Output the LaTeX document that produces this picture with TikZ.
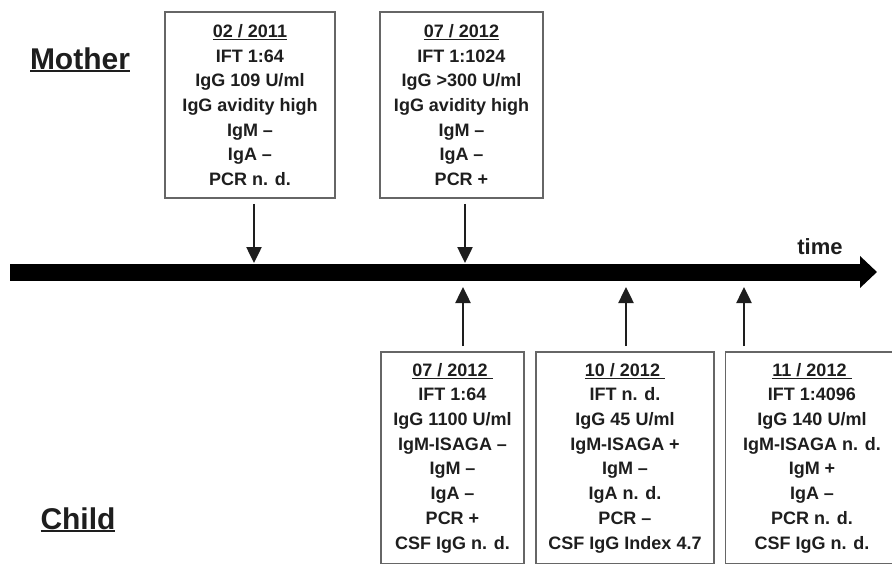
\documentclass[tikz,border=0pt]{standalone}
\usepackage{fontspec}
\setmainfont{Liberation Sans}
\usetikzlibrary{arrows.meta, positioning}

\definecolor{inkgray}{HTML}{1E1E1E}
\definecolor{framegray}{HTML}{666666}

% underlined date / label
\newcommand{\dateline}[2][1.3pt]{\setbox0\hbox{#2}\leavevmode\rlap{\rule[-3pt]{\wd0}{#1}}\box0}

\tikzset{
  labbox/.style={draw=framegray, line width=1.8pt, align=center, inner sep=0pt,
    text=inkgray, font=\bfseries\fontsize{18}{24.7}\selectfont},
  evarrow/.style={draw=inkgray, line width=2.5pt, shorten <=5pt,
    -{Triangle[width=15pt,length=16pt]}},
  timeline/.style={draw=black, line width=17pt,
    -{Triangle[width=31pt,length=17pt]}},
  sidelabel/.style={text=inkgray, font=\bfseries\fontsize{30}{32}\selectfont}
}

\begin{document}
\begin{tikzpicture}[x=1pt, y=-1pt]
  \useasboundingbox (0,0) rectangle (892,563);

  % time axis
  \coordinate (tstart) at (10,272);
  \coordinate (tend) at (877,272);
  \draw[timeline] (tstart) -- (tend);
  \node[text=inkgray, font=\bfseries\fontsize{22}{24}\selectfont] (time) at (820,247) {time};

  % side labels
  \node[sidelabel] (mother) at (80,60) {\dateline[2.2pt]{Mother}};
  \node[sidelabel] (child) at (78,520) {\dateline[2.2pt]{Child}};

  % mother findings
  \node[labbox, minimum width=170pt, minimum height=186pt] (m1) at (250,105)
    {\dateline{02 / 2011}\\ IFT 1:64\\ IgG 109 U/ml\\ IgG avidity high\\ IgM --\\ IgA --\\ PCR n. d.};
  \node[labbox, minimum width=163pt, minimum height=186pt] (m2) at (461.5,105)
    {\dateline{07 / 2012}\\ IFT 1:1024\\ IgG >300 U/ml\\ IgG avidity high\\ IgM --\\ IgA --\\ PCR +};

  % child findings
  \node[labbox, minimum width=143pt, minimum height=212pt] (c1) at (452.5,458)
    {\dateline{07 / 2012\ }\\ IFT 1:64\\ IgG 1100 U/ml\\ IgM-ISAGA --\\ IgM --\\ IgA --\\ PCR +\\ CSF IgG n. d.};
  \node[labbox, minimum width=178pt, minimum height=212pt] (c2) at (625,458)
    {\dateline{10 / 2012\ }\\ IFT n. d.\\ IgG 45 U/ml\\ IgM-ISAGA +\\ IgM --\\ IgA n. d.\\ PCR --\\ CSF IgG Index 4.7};
  \node[labbox, minimum width=173pt, minimum height=212pt] (c3) at (812,458)
    {\dateline{11 / 2012\ }\\ IFT 1:4096\\ IgG 140 U/ml\\ IgM-ISAGA n. d.\\ IgM +\\ IgA --\\ PCR n. d.\\ CSF IgG n. d.};

  % arrow tips on the axis
  \coordinate (pm1) at (254,263);
  \coordinate (pm2) at (465,263);
  \coordinate (pc1) at (463,287);
  \coordinate (pc2) at (626,287);
  \coordinate (pc3) at (744,287);

  \draw[evarrow] (m1.south -| pm1) -- (pm1);
  \draw[evarrow] (m2.south -| pm2) -- (pm2);
  \draw[evarrow] (c1.north -| pc1) -- (pc1);
  \draw[evarrow] (c2.north -| pc2) -- (pc2);
  \draw[evarrow] (c3.north -| pc3) -- (pc3);
\end{tikzpicture}
\end{document}
